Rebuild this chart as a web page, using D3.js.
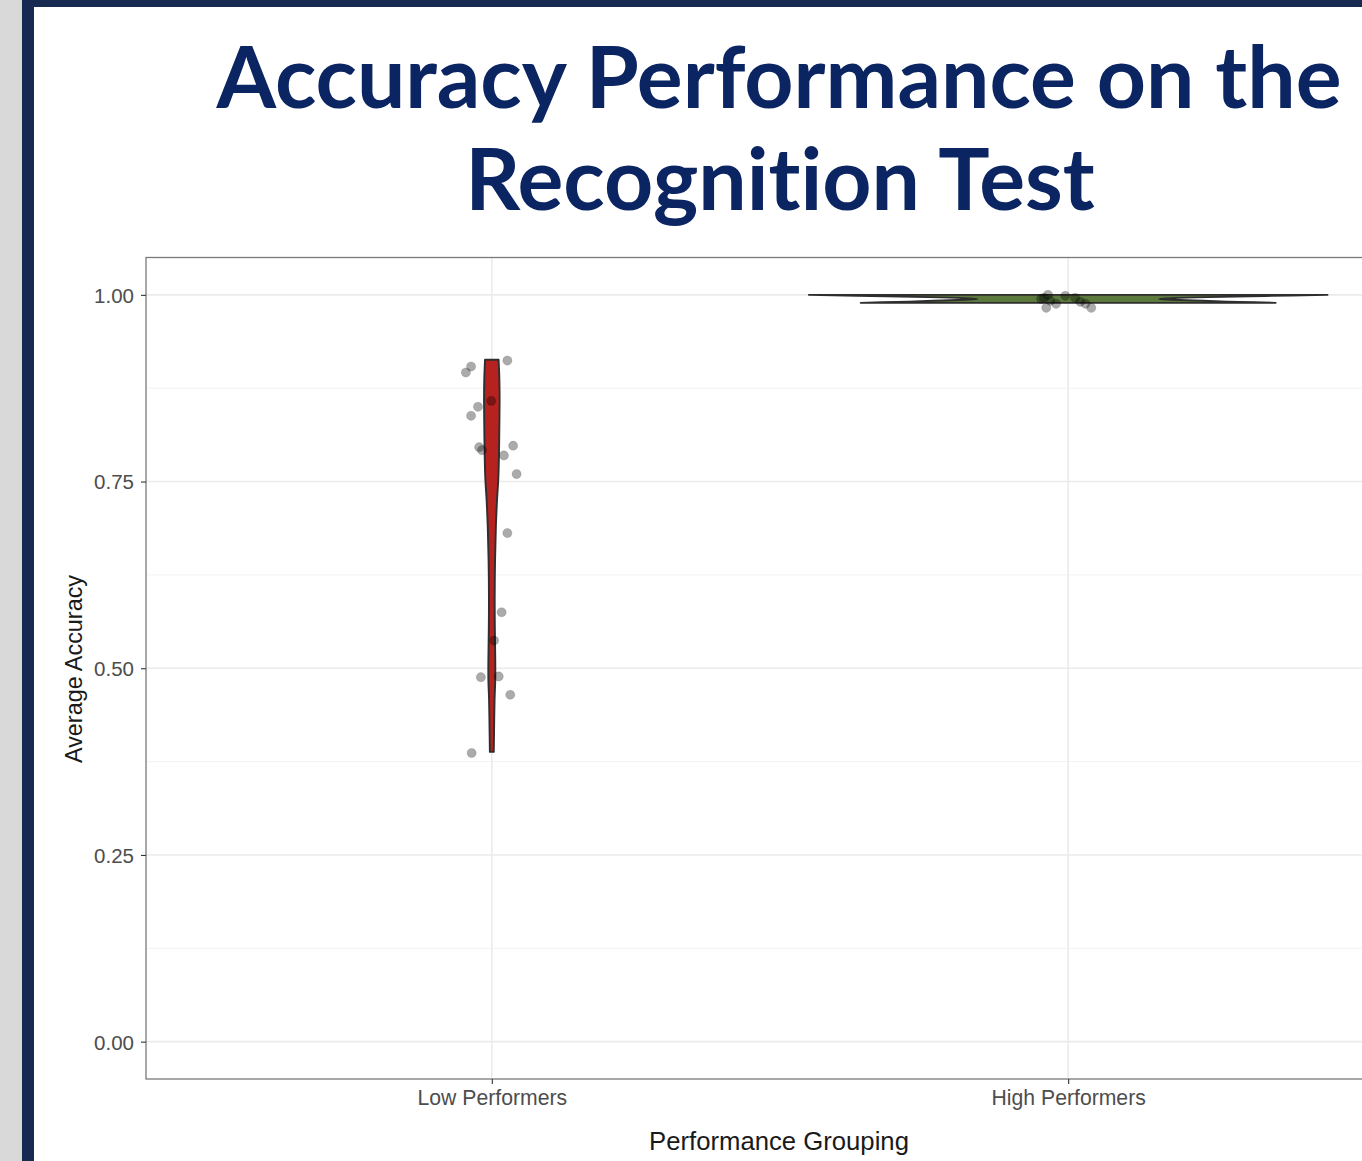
<!DOCTYPE html>
<html>
<head>
<meta charset="utf-8">
<script src="https://cdn.jsdelivr.net/npm/d3@7"></script>
<style>
  html, body { margin: 0; padding: 0; background: #ffffff; }
  svg { display: block; }
  .title text { font-variant-ligatures: none; font-feature-settings: "liga" 0, "clig" 0; }
</style>
</head>
<body>
<svg id="chart" width="1362" height="1161"></svg>
<script>
// ---------------- DATA ----------------
const titleLines = ["Accuracy Performance on the", "Recognition Test"];
const categories = ["Low Performers", "High Performers"];
const xTitle = "Performance Grouping";
const yTitle = "Average Accuracy";
const yTicks = [0, 0.25, 0.5, 0.75, 1.0];
const yTickLabels = ["0.00", "0.25", "0.50", "0.75", "1.00"];
const yMinorTicks = [0.125, 0.375, 0.625, 0.875];

// Low performers: observed accuracies and horizontal jitter (category units)
const lowValues = [0.896, 0.904, 0.912, 0.858, 0.850, 0.838, 0.796, 0.792, 0.785, 0.798,
                   0.760, 0.681, 0.575, 0.537, 0.488, 0.489, 0.4645, 0.3865];
const lowJitter = [-0.045, -0.036, 0.027, -0.001, -0.024, -0.036, -0.022, -0.017, 0.021, 0.037,
                   0.043, 0.027, 0.017, 0.004, -0.019, 0.012, 0.032, -0.035];

// High performers
const highValues = [0.9946, 0.9960, 1.000, 0.992, 0.9826, 0.988, 0.9987, 0.996, 0.9906, 0.988, 0.9826];
const highJitter = [-0.047, -0.042, -0.035, -0.031, -0.038, -0.021, -0.005, 0.012, 0.021, 0.030, 0.040];

// Violin profiles: accuracy levels and relative width (1 = widest violin)
const lowViolinLevels = [0.913, 0.886, 0.859, 0.819, 0.779, 0.752, 0.726, 0.689, 0.645,
                         0.592, 0.552, 0.511, 0.485, 0.458, 0.418, 0.388];
const lowViolinWidth  = [0.0262, 0.0292, 0.0300, 0.0289, 0.0272, 0.0248, 0.0202, 0.0156, 0.0125,
                         0.0110, 0.0117, 0.0133, 0.0133, 0.0106, 0.0087, 0.0075];
const highViolinLevels = [1.000, 0.9985, 0.997, 0.9955, 0.9945, 0.9935, 0.992, 0.9905, 0.9893];
const highViolinWidth  = [1.00, 0.76, 0.54, 0.40, 0.35, 0.40, 0.52, 0.66, 0.80];

const violinFills = ["#b5221f", "#5b7a3c"];

// ---------------- LAYOUT ----------------
const W = 1362, H = 1161;
const panel = { left: 146, top: 257.5, right: 1414, bottom: 1079 };
const svg = d3.select("#chart");

// page frame
svg.append("rect").attr("x", 0).attr("y", 0).attr("width", W).attr("height", H).attr("fill", "#ffffff");
svg.append("rect").attr("x", 0).attr("y", 0).attr("width", 22).attr("height", H).attr("fill", "#d9d9d9");
svg.append("rect").attr("x", 22).attr("y", 0).attr("width", 12).attr("height", H).attr("fill", "#172b52");
svg.append("rect").attr("x", 22).attr("y", 0).attr("width", W - 22).attr("height", 7).attr("fill", "#172b52");

// title
const title = svg.append("g").attr("class", "title").attr("font-family", "Lato, 'Open Sans', sans-serif")
  .attr("font-weight", 700).attr("fill", "#0b2462").attr("text-anchor", "middle");
const t1 = title.append("text").attr("x", 779).attr("y", 108).attr("font-size", 87).text(titleLines[0]);
const measured = t1.node().getComputedTextLength();
const fs = 87 * 1125 / measured;
t1.attr("font-size", fs);
title.append("text").attr("x", 780).attr("y", 210).attr("font-size", fs).text(titleLines[1]);

// scales
const x = d3.scalePoint().domain(categories).range([panel.left, panel.right]).padding(0.6);
const step = x.step();
const y = d3.scaleLinear().domain([-0.05, 1.05]).range([panel.bottom, panel.top]);

svg.append("clipPath").attr("id", "pclip").append("rect")
  .attr("x", panel.left).attr("y", panel.top)
  .attr("width", panel.right - panel.left).attr("height", panel.bottom - panel.top);

const plot = svg.append("g").attr("clip-path", "url(#pclip)");

// grid
plot.selectAll("line.minor").data(yMinorTicks).join("line")
  .attr("x1", panel.left).attr("x2", panel.right)
  .attr("y1", d => y(d)).attr("y2", d => y(d))
  .attr("stroke", "#f2f2f2").attr("stroke-width", 1);
plot.selectAll("line.major").data(yTicks).join("line")
  .attr("x1", panel.left).attr("x2", panel.right)
  .attr("y1", d => y(d)).attr("y2", d => y(d))
  .attr("stroke", "#ebebeb").attr("stroke-width", 1.6);
plot.selectAll("line.vmajor").data(categories).join("line")
  .attr("x1", d => x(d)).attr("x2", d => x(d))
  .attr("y1", panel.top).attr("y2", panel.bottom)
  .attr("stroke", "#ebebeb").attr("stroke-width", 1.6);

// violins
const violins = [
  { cat: categories[0], levels: lowViolinLevels, widths: lowViolinWidth },
  { cat: categories[1], levels: highViolinLevels, widths: highViolinWidth }
];
violins.forEach((v, i) => {
  const pts = v.levels.map((lv, k) => ({ v: lv, w: v.widths[k] }));
  const cx = x(v.cat);
  const half = d => d.w * 0.45 * step;
  const area = d3.area()
    .y(d => y(d.v))
    .x0(d => cx - half(d))
    .x1(d => cx + half(d))
    .curve(d3.curveCatmullRom);
  plot.append("path").attr("d", area(pts))
    .attr("fill", violinFills[i]).attr("stroke", "#2e2e2e")
    .attr("stroke-width", 1.9).attr("stroke-linejoin", "round");
});

// jittered points
const groups = [
  { cat: categories[0], values: lowValues, jitter: lowJitter },
  { cat: categories[1], values: highValues, jitter: highJitter }
];
groups.forEach(g => {
  const pts = g.values.map((v, k) => ({ v, j: g.jitter[k] }));
  plot.selectAll(null).data(pts).join("circle")
    .attr("cx", d => x(g.cat) + d.j * step)
    .attr("cy", d => y(d.v))
    .attr("r", 4.6)
    .attr("fill", "#000").attr("fill-opacity", 0.33)
    .attr("stroke", "#000").attr("stroke-opacity", 0.12).attr("stroke-width", 1);
});

// panel border
svg.append("rect").attr("x", panel.left).attr("y", panel.top)
  .attr("width", panel.right - panel.left).attr("height", panel.bottom - panel.top)
  .attr("fill", "none").attr("stroke", "#7a7a7a").attr("stroke-width", 1.3);

// axes
const yAxis = d3.axisLeft(y).tickValues(yTicks)
  .tickFormat((d, i) => yTickLabels[i]).tickSize(5).tickPadding(7);
const gy = svg.append("g").attr("transform", `translate(${panel.left},0)`).call(yAxis);
gy.select(".domain").remove();
gy.selectAll(".tick line").attr("stroke", "#333333").attr("stroke-width", 1.1);
gy.selectAll(".tick text").attr("font-family", "'Liberation Sans', Arial, Helvetica, sans-serif")
  .attr("font-size", 20.5).attr("fill", "#4d4d4d").attr("dy", "0.36em");

const xAxis = d3.axisBottom(x).tickSize(5).tickPadding(6);
const gx = svg.append("g").attr("transform", `translate(0,${panel.bottom})`).call(xAxis);
gx.select(".domain").remove();
gx.selectAll(".tick line").attr("stroke", "#333333").attr("stroke-width", 1.1);
gx.selectAll(".tick text").attr("font-family", "'Liberation Sans', Arial, Helvetica, sans-serif")
  .attr("font-size", 21.2).attr("fill", "#4d4d4d").attr("dy", "0.71em");

// axis titles
svg.append("text").attr("x", 779).attr("y", 1150).attr("text-anchor", "middle")
  .attr("font-family", "'Liberation Sans', Arial, Helvetica, sans-serif")
  .attr("font-size", 25.7).attr("fill", "#1a1a1a").text(xTitle);
svg.append("text").attr("transform", "translate(82,669) rotate(-90)").attr("text-anchor", "middle")
  .attr("font-family", "'Liberation Sans', Arial, Helvetica, sans-serif")
  .attr("font-size", 23.4).attr("fill", "#1a1a1a").text(yTitle);
</script>
</body>
</html>
